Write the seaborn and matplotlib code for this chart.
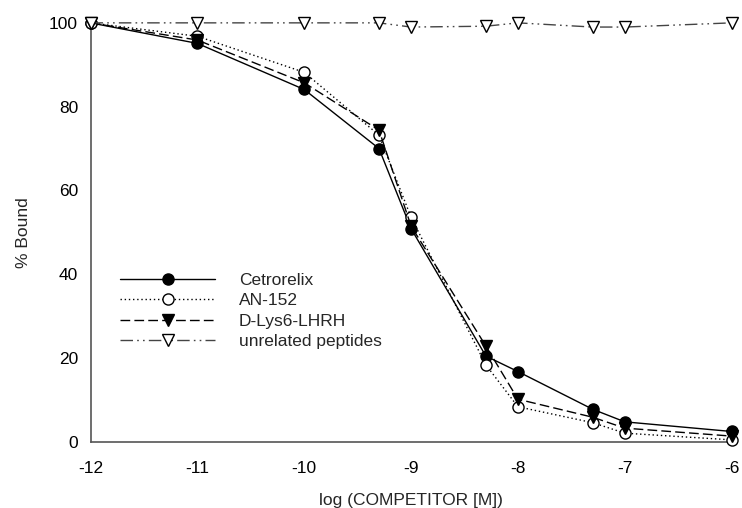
import matplotlib
matplotlib.use("Agg")
import matplotlib.pyplot as plt
import seaborn as sns
import pandas as pd

# log concentration of competitor
log_conc = [-12, -11, -10, -9.3, -9, -8.3, -8, -7.3, -7, -6]

cetrorelix = [100, 95.1, 84.1, 70.0, 50.9, 20.5, 16.8, 7.8, 4.8, 2.5]
an152 = [100, 96.8, 88.2, 73.2, 53.6, 18.4, 8.4, 4.6, 2.1, 0.5]
dlys6 = [100, 95.9, 85.7, 74.4, 51.5, 22.9, 10.2, 5.9, 3.3, 1.4]
unrelated = [100, 100, 100, 100, 99.0, 99.2, 100, 99.0, 99.0, 100]

series_names = ["Cetrorelix", "AN-152", "D-Lys6-LHRH", "unrelated peptides"]
series_values = [cetrorelix, an152, dlys6, unrelated]

sns.set_theme(style="white")
plt.rcParams["font.family"] = ["Liberation Sans", "DejaVu Sans"]
plt.rcParams["axes.unicode_minus"] = False

fig = plt.figure(figsize=(7.42, 5.08), dpi=100)
ax = fig.add_axes([0.122, 0.130, 0.864, 0.825])

# style per series: linestyle, marker, face colour, line colour
styles = {
    "Cetrorelix": ("-", "o", "black", "black"),
    "AN-152": ((0, (1, 2)), "o", "white", "black"),
    "D-Lys6-LHRH": ((0, (7, 3)), "v", "black", "black"),
    "unrelated peptides": ((0, (9, 3, 1.2, 3, 1.2, 3)), "v", "white", "#444444"),
}

for name, vals in zip(series_names, series_values):
    df = pd.DataFrame({"x": log_conc, "y": vals})
    ls, mk, fc, lc = styles[name]
    sns.lineplot(data=df, x="x", y="y", ax=ax, label=name, color=lc,
                 linestyle=ls, linewidth=1.0, marker=mk, markersize=8,
                 markerfacecolor=fc, markeredgecolor="black",
                 markeredgewidth=1.0, clip_on=False, zorder=3)

ax.set_xlim(-12, -6)
ax.set_ylim(0, 100)
ax.set_xticks([-12, -11, -10, -9, -8, -7, -6])
ax.set_yticks([0, 20, 40, 60, 80, 100])
for s in ["top", "right"]:
    ax.spines[s].set_visible(False)
for s in ["left", "bottom"]:
    ax.spines[s].set_color("#555555")
    ax.spines[s].set_linewidth(1.2)
ax.tick_params(axis="both", direction="out", length=5, width=1.2,
               color="#555555", labelsize=12.5, labelcolor="black", pad=4)
ax.tick_params(axis="x", pad=9)

ax.set_xlabel("log (COMPETITOR [M])", fontsize=12.5, labelpad=12)
ax.set_ylabel("% Bound", fontsize=12.5, labelpad=13)

leg = ax.legend(loc="upper left", bbox_to_anchor=(0.035, 0.421), frameon=False,
                fontsize=12.5, handlelength=5.5, handletextpad=1.35,
                labelspacing=0.31, borderaxespad=0)

fig.savefig("out.png", dpi=100)
